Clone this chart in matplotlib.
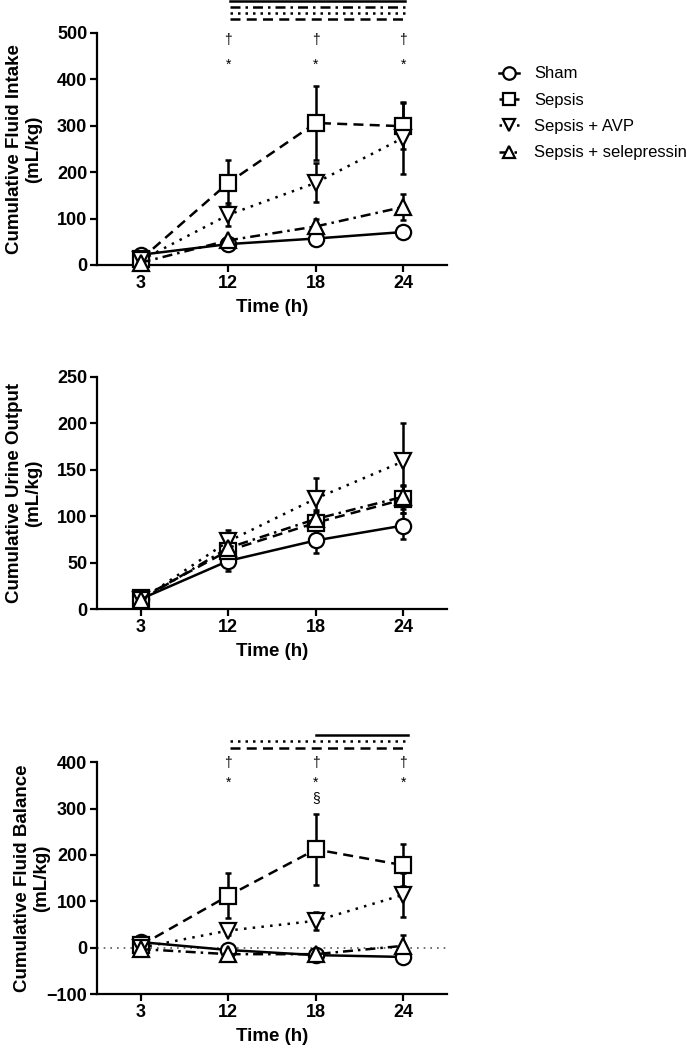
import numpy as np
import matplotlib.pyplot as plt
from matplotlib.lines import Line2D

plt.rcParams['font.family'] = ['Liberation Sans', 'DejaVu Sans']

# time points (categorical x axis)
time_labels = ['3', '12', '18', '24']
groups = ['Sham', 'Sepsis', 'Sepsis + AVP', 'Sepsis + selepressin']

# cumulative fluid intake (mL/kg), mean and error
intake_sham = [22, 45, 57, 71]
intake_sham_err = [3, 6, 8, 10]
intake_sepsis = [12, 177, 306, 299]
intake_sepsis_err = [3, 50, 80, 50]
intake_avp = [10, 108, 177, 274]
intake_avp_err = [3, 25, 42, 78]
intake_selep = [5, 53, 83, 125]
intake_selep_err = [3, 8, 17, 28]

# cumulative urine output (mL/kg)
urine_sham = [11, 52, 74, 90]
urine_sham_err = [2, 11, 13, 14]
urine_sepsis = [12, 63, 93, 118]
urine_sepsis_err = [2, 10, 12, 15]
urine_avp = [10, 73, 119, 159]
urine_avp_err = [2, 12, 22, 41]
urine_selep = [10, 66, 97, 121]
urine_selep_err = [2, 8, 10, 13]

# cumulative fluid balance (mL/kg)
balance_sham = [12, -5, -16, -20]
balance_sham_err = [4, 8, 5, 6]
balance_sepsis = [5, 112, 212, 178]
balance_sepsis_err = [5, 49, 77, 45]
balance_avp = [0, 37, 58, 114]
balance_avp_err = [4, 10, 20, 47]
balance_selep = [-3, -14, -14, 4]
balance_selep_err = [4, 5, 5, 23]

styles = {
    'Sham': dict(ls='-', marker='o'),
    'Sepsis': dict(ls=(0, (4, 2.5)), marker='s'),
    'Sepsis + AVP': dict(ls=(0, (1, 2.5)), marker='v'),
    'Sepsis + selepressin': dict(ls=(0, (4, 2, 1, 2)), marker='^'),
}

fig = plt.figure(figsize=(6.87, 10.49), dpi=100)
x = np.arange(len(time_labels))


def panel(rect, series, ylim, yticks, ylabel, label_x):
    ax = fig.add_axes(rect)
    for name, (vals, errs) in zip(groups, series):
        st = styles[name]
        ax.errorbar(x, vals, yerr=errs, fmt='none', ecolor='black',
                    elinewidth=1.8, capsize=2, capthick=1.8, zorder=2)
        ax.plot(x, vals, color='black', linestyle=st['ls'], lw=1.8,
                marker=st['marker'], markersize=11, markerfacecolor='white',
                markeredgecolor='black', markeredgewidth=1.6, zorder=3,
                clip_on=False)
    ax.set_xlim(-0.5, 3.5)
    ax.set_ylim(*ylim)
    ax.set_yticks(yticks)
    ax.set_xticks(x)
    ax.set_xticklabels(time_labels)
    for s in ['top', 'right']:
        ax.spines[s].set_visible(False)
    for s in ['left', 'bottom']:
        ax.spines[s].set_linewidth(1.6)
    ax.tick_params(width=1.6, length=5, labelsize=13, pad=2)
    for lab in ax.get_xticklabels() + ax.get_yticklabels():
        lab.set_fontweight('bold')
    ax.set_xlabel('Time (h)', fontsize=13.5, fontweight='bold', labelpad=5)
    ax.set_ylabel(ylabel, fontsize=13.5, fontweight='bold', linespacing=1.15)
    ax.yaxis.set_label_coords(label_x, 0.5)
    return ax


def sig_line(ax, x0, x1, y, ls):
    ax.plot([x0, x1], [y, y], color='black', lw=1.8, linestyle=ls, clip_on=False)


def marks(ax, xs, y, txt):
    for xi in xs:
        ax.text(xi, y, txt, ha='center', va='center', fontsize=10, clip_on=False)


# top panel
ax1 = panel([0.1412, 0.7474, 0.5095, 0.2212],
            [(intake_sham, intake_sham_err), (intake_sepsis, intake_sepsis_err),
             (intake_avp, intake_avp_err), (intake_selep, intake_selep_err)],
            (0, 500), [0, 100, 200, 300, 400, 500],
            'Cumulative Fluid Intake\n(mL/kg)', -0.157)
sig_line(ax1, 1.02, 3.02, 568, '-')
sig_line(ax1, 1.02, 3.02, 555, (0, (4, 2, 1, 2)))
sig_line(ax1, 1.02, 3.02, 542, (0, (1, 2)))
sig_line(ax1, 1.02, 3.02, 529, (0, (4, 2.5)))
marks(ax1, [1, 2, 3], 485, '\u2020')
marks(ax1, [1, 2, 3], 432, '*')

# middle panel
ax2 = panel([0.1412, 0.4192, 0.5095, 0.2217],
            [(urine_sham, urine_sham_err), (urine_sepsis, urine_sepsis_err),
             (urine_avp, urine_avp_err), (urine_selep, urine_selep_err)],
            (0, 250), [0, 50, 100, 150, 200, 250],
            'Cumulative Urine Output\n(mL/kg)', -0.157)

# bottom panel
ax3 = panel([0.1412, 0.0524, 0.5095, 0.2209],
            [(balance_sham, balance_sham_err), (balance_sepsis, balance_sepsis_err),
             (balance_avp, balance_avp_err), (balance_selep, balance_selep_err)],
            (-100, 400), [-100, 0, 100, 200, 300, 400],
            'Cumulative Fluid Balance\n(mL/kg)', -0.134)
ax3.axhline(0, color='#555555', lw=1.2, linestyle=(0, (1, 3)), zorder=1)
sig_line(ax3, 2.0, 3.05, 460, '-')
sig_line(ax3, 1.02, 3.05, 445, (0, (1, 2)))
sig_line(ax3, 1.02, 3.05, 430, (0, (4, 2.5)))
marks(ax3, [1, 2, 3], 398, '\u2020')
marks(ax3, [1, 2, 3], 355, '*')
marks(ax3, [2], 322, '\u00a7')

# legend
handles = [Line2D([], [], color='black', linestyle=styles[g]['ls'], lw=1.8,
                  marker=styles[g]['marker'], markersize=9,
                  markerfacecolor='white', markeredgewidth=1.6)
           for g in groups]
fig.legend(handles, groups, loc='upper left', bbox_to_anchor=(0.705, 0.951),
           frameon=False, fontsize=12, handlelength=1.2, labelspacing=0.68,
           handletextpad=0.9)

fig.savefig('out.png', dpi=100)
